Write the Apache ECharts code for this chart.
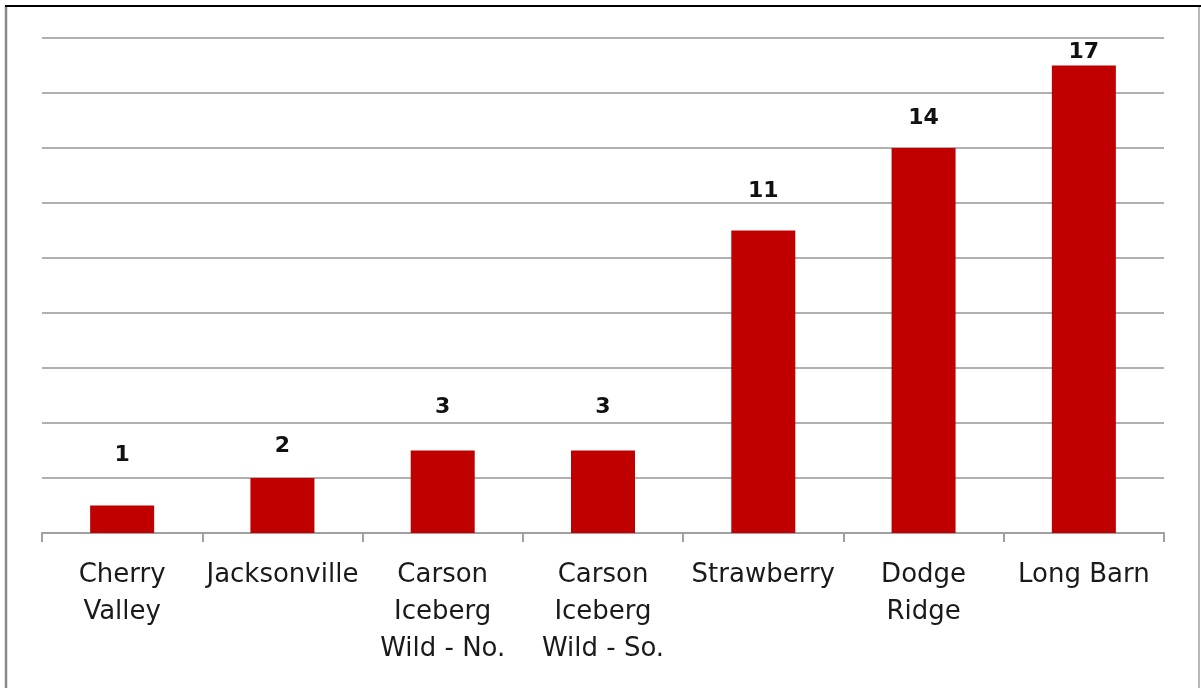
<!DOCTYPE html>
<html>
<head>
<meta charset="utf-8">
<script src="https://cdn.jsdelivr.net/npm/echarts@6/dist/echarts.min.js"></script>
<style>
  html, body { margin: 0; padding: 0; background: #ffffff; }
  #chart { width: 1201px; height: 688px; }
</style>
</head>
<body>
<div id="chart"></div>
<script>
// Trail areas (category labels, line breaks are part of the label text)
const areas = [
  'Cherry\nValley',
  'Jacksonville',
  'Carson\nIceberg\nWild - No.',
  'Carson\nIceberg\nWild - So.',
  'Strawberry',
  'Dodge\nRidge',
  'Long Barn'
];

// Count per area
const counts = [1, 2, 3, 3, 11, 14, 17];

// Value axis range
const axisMax = 18;
const axisStep = 2;

// Gap in px between each bar top and its value label
const labelGap = [39, 21, 32, 32, 28, 19, 2];

const chart = echarts.init(document.getElementById('chart'), null, { renderer: 'canvas' });

const barData = counts.map((v, i) => ({
  value: v,
  label: { distance: labelGap[i] }
}));

chart.setOption({
  animation: false,
  backgroundColor: '#ffffff',
  grid: { left: 42, right: 37, top: 38, bottom: 155, containLabel: false },
  xAxis: {
    type: 'category',
    data: areas,
    axisLine: { lineStyle: { color: '#a0a0a0', width: 2 } },
    axisTick: { show: true, length: 9, alignWithLabel: false, lineStyle: { color: '#a0a0a0', width: 2 } },
    axisLabel: {
      interval: 0,
      margin: 24,
      color: '#1a1a1a',
      fontFamily: 'DejaVu Sans',
      fontSize: 26,
      lineHeight: 37,
      align: 'center'
    }
  },
  yAxis: {
    type: 'value',
    min: 0,
    max: axisMax,
    interval: axisStep,
    axisLine: { show: false },
    axisTick: { show: false },
    axisLabel: { show: false },
    splitLine: { show: true, lineStyle: { color: '#b0b0b0', width: 2 } }
  },
  series: [{
    type: 'bar',
    data: barData,
    barWidth: 64,
    itemStyle: { color: '#c00000' },
    label: {
      show: true,
      position: 'top',
      color: '#111111',
      fontFamily: 'DejaVu Sans',
      fontWeight: 'bold',
      fontSize: 22,
      lineHeight: 22
    }
  }],
  graphic: [
    // outer frame edges
    { type: 'line', silent: true, shape: { x1: 6, y1: 6, x2: 6, y2: 688 }, style: { stroke: '#8a8a8a', lineWidth: 2.5 } },
    { type: 'line', silent: true, shape: { x1: 1199, y1: 6, x2: 1199, y2: 688 }, style: { stroke: '#a0a0a0', lineWidth: 1.5 } },
    { type: 'line', silent: true, shape: { x1: 5, y1: 6, x2: 1201, y2: 6 }, style: { stroke: '#000000', lineWidth: 2 } }
  ]
});
</script>
</body>
</html>
